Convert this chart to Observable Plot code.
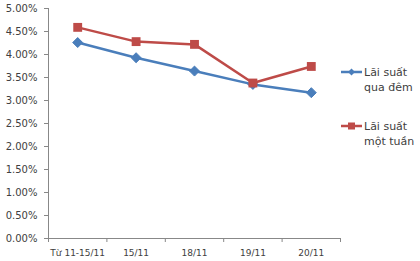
<!DOCTYPE html>
<html><head><meta charset="utf-8">
<script src="https://cdn.jsdelivr.net/npm/d3@7"></script>
<script src="https://cdn.jsdelivr.net/npm/@observablehq/plot@0.6"></script>
<style>
body{margin:0;background:#fff;}
#wrap{position:relative;width:420px;height:261px;font-family:"DejaVu Sans",Verdana,sans-serif;}
#legend{position:absolute;left:341px;top:65px;font-size:11px;color:#404040;line-height:15px;}
.item{position:absolute;left:0;width:80px;}
.item svg{position:absolute;left:0;top:2px;}
.item span{position:absolute;left:23px;top:0;white-space:nowrap;}
</style></head>
<body><div id="wrap"><div id="chart"></div><div id="legend"></div></div>
<script>
const categories = ["Từ 11-15/11", "15/11", "18/11", "19/11", "20/11"];
const overnight = [4.26, 3.93, 3.64, 3.35, 3.17];
const oneWeek = [4.59, 4.28, 4.22, 3.38, 3.74];
const seriesNames = ["Lãi suất qua đêm", "Lãi suất một tuần"];
const colors = ["#4A7EBB", "#BE4B48"];
const yTicks = [0, 0.5, 1, 1.5, 2, 2.5, 3, 3.5, 4, 4.5, 5];

const idx = categories.map((c, i) => i);
const data1 = idx.map(i => ({x: i, y: overnight[i]}));
const data2 = idx.map(i => ({x: i, y: oneWeek[i]}));
const bounds = d3.range(categories.length + 1).map(i => i - 0.5);

const chart = Plot.plot({
  width: 420, height: 261,
  marginLeft: 48, marginRight: 80, marginTop: 8, marginBottom: 23,
  style: {fontFamily: '"DejaVu Sans", Verdana, sans-serif', color: "#404040", background: "#fff"},
  x: {domain: [-0.5, categories.length - 0.5]},
  y: {domain: [0, 5]},
  marks: [
    Plot.axisY({ticks: yTicks, tickSize: 4, tickPadding: 7, stroke: "#888", fontSize: 10, label: null,
      tickFormat: d => d.toFixed(2) + "%"}),
    Plot.axisX({ticks: idx, tickSize: 0, tickPadding: 11, fontSize: 9, label: null,
      tickFormat: i => categories[i]}),
    Plot.axisX({ticks: bounds, tickSize: 4, stroke: "#888", tickFormat: () => "", label: null}),
    Plot.frame({anchor: "left", stroke: "#888"}),
    Plot.frame({anchor: "bottom", stroke: "#888"}),
    Plot.line(data1, {x: "x", y: "y", stroke: colors[0], strokeWidth: 2.5}),
    Plot.dot(data1, {x: "x", y: "y", symbol: "diamond2", r: 4.5, fill: colors[0], stroke: colors[0], strokeWidth: 1}),
    Plot.line(data2, {x: "x", y: "y", stroke: colors[1], strokeWidth: 2.5}),
    Plot.dot(data2, {x: "x", y: "y", symbol: "square", r: 5, fill: colors[1], stroke: colors[1], strokeWidth: 0})
  ]
});
document.getElementById("chart").appendChild(chart);

const legend = document.getElementById("legend");
const tops = [0, 54];
seriesNames.forEach((name, i) => {
  const item = document.createElement("div");
  item.className = "item";
  item.style.top = tops[i] + "px";
  const marker = i === 0
    ? `<polygon points="10.5,1.5 14,5 10.5,8.5 7,5" fill="${colors[i]}"/>`
    : `<rect x="7" y="1.5" width="7" height="7" fill="${colors[i]}"/>`;
  item.innerHTML = `<svg width="22" height="10"><line x1="0" y1="5" x2="21" y2="5" stroke="${colors[i]}" stroke-width="2.5"/>${marker}</svg><span>${name.replace("suất ", "suất<br>")}</span>`;
  legend.appendChild(item);
});
</script></body></html>
